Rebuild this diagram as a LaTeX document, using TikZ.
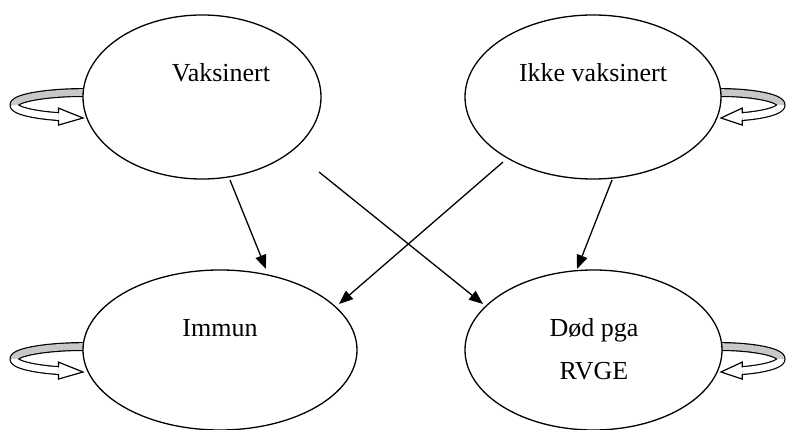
\documentclass[tikz,border=0pt]{standalone}
\usepackage{fontspec}
\setmainfont{Liberation Serif}
\usetikzlibrary{shapes.geometric,arrows.meta}
\definecolor{bandgray}{RGB}{200,200,200}
\tikzset{
  state/.style={ellipse, draw, line width=1.3pt, fill=white, inner sep=0pt, outer sep=0pt},
  statetext/.style={anchor=base, inner sep=0pt, font=\fontsize{26}{30}\selectfont},
  flow/.style={-{Triangle[length=14pt,width=11pt]}, line width=1.3pt},
  ringedge/.style={line width=9pt, line cap=butt},
  ringback/.style={line width=6.6pt, line cap=butt, bandgray},
  ringfront/.style={line width=6.6pt, line cap=butt, white},
  ringhead/.style={fill=white, draw=black, line width=1.2pt, line join=miter},
}
% Flat curved block arrow looping back into a state; #1 = horizontal radius
\newcommand{\selfloop}[1]{%
  \draw[ringedge] plot[domain=-90:-248, samples=80] ({2+#1*cos(\x)},{12.5*sin(\x)});
  \draw[ringback] plot[domain=-90:-180, samples=50] ({2+#1*cos(\x)},{12.5*sin(\x)});
  \draw[ringfront] plot[domain=-180:-248, samples=40] ({2+#1*cos(\x)},{12.5*sin(\x)});
  \filldraw[ringhead] ({2+#1*cos(112)},8.3) -- ({2+#1*cos(112)},3.1) -- (0,13)
     -- ({2+#1*cos(112)},20.1) -- ({2+#1*cos(112)},14.9);
}
\begin{document}
\begin{tikzpicture}[x=1pt,y=-1pt]
\useasboundingbox (0,0) rectangle (787,430);

% self-transitions behind the states
\begin{scope}[shift={(83,105)}]\selfloop{71}\end{scope}
\begin{scope}[shift={(721,105)},xscale=-1]\selfloop{62}\end{scope}
\begin{scope}[shift={(83,359)}]\selfloop{71}\end{scope}
\begin{scope}[shift={(721,359)},xscale=-1]\selfloop{62}\end{scope}

% states
\node[state, minimum width=238pt, minimum height=164pt] (vak) at (202,97) {};
\node[state, minimum width=256pt, minimum height=164pt] (ikke) at (593,97) {};
\node[state, minimum width=274pt, minimum height=160pt] (imm) at (220,350) {};
\node[state, minimum width=257pt, minimum height=160pt] (dod) at (593.5,350) {};

\node[statetext] (tvak) at (221,82) {Vaksinert};
\node[statetext] (tikke) at (593,82) {Ikke vaksinert};
\node[statetext] (timm) at (220,337) {Immun};
\node[statetext] (tdod1) at (594,336) {Død pga};
\node[statetext] (tdod2) at (594,379) {RVGE};

% transitions
\draw[flow] ([shift={(28,83)}]vak.center) -- ([shift={(46,-81)}]imm.center);
\draw[flow] ([shift={(117,75)}]vak.center) -- ([shift={(-110.5,-46)}]dod.center);
\draw[flow] ([shift={(-90,65)}]ikke.center) -- ([shift={(119,-46)}]imm.center);
\draw[flow] ([shift={(19,83)}]ikke.center) -- ([shift={(-16.5,-81)}]dod.center);
\end{tikzpicture}
\end{document}
